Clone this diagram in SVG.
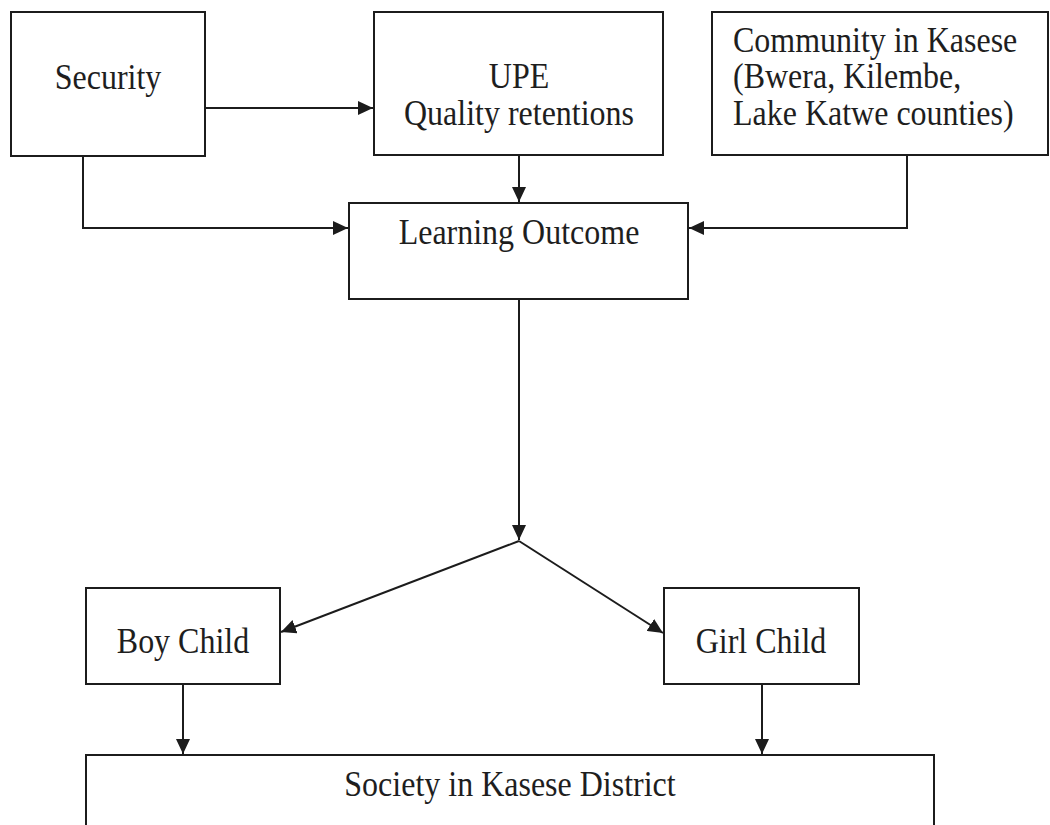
<svg xmlns="http://www.w3.org/2000/svg" width="1050" height="825" viewBox="0 0 1050 825">
<style>
  .box { fill: #ffffff; stroke: #1c1c1c; stroke-width: 2; }
  .conn { fill: none; stroke: #1c1c1c; stroke-width: 2; }
  .t { font-family: "Liberation Serif", "Times New Roman", serif; font-size: 32px; fill: #1e1e1e; }
  .c { text-anchor: middle; }
</style>
<defs>
  <marker id="arrow" markerUnits="userSpaceOnUse" markerWidth="16" markerHeight="14" refX="15" refY="7" orient="auto">
    <path d="M0,0 L15,7 L0,14 z" fill="#1c1c1c"/>
  </marker>
</defs>
<rect width="1050" height="825" fill="#ffffff"/>

<g id="connectors">
  <path class="conn" d="M205,108 H373" marker-end="url(#arrow)"/>
  <path class="conn" d="M83,156 V228 H348" marker-end="url(#arrow)"/>
  <path class="conn" d="M519,155 V202" marker-end="url(#arrow)"/>
  <path class="conn" d="M907,155 V228 H689" marker-end="url(#arrow)"/>
  <path class="conn" d="M519,299 V540" marker-end="url(#arrow)"/>
  <path class="conn" d="M519,541 L281,632" marker-end="url(#arrow)"/>
  <path class="conn" d="M519,541 L663,633" marker-end="url(#arrow)"/>
  <path class="conn" d="M183,684 V754" marker-end="url(#arrow)"/>
  <path class="conn" d="M762,684 V754" marker-end="url(#arrow)"/>
</g>

<g id="security">
  <rect class="box" x="11" y="12" width="194" height="144"/>
  <text class="t c" transform="translate(108,89) scale(1,1.1)">Security</text>
</g>

<g id="upe">
  <rect class="box" x="374" y="12" width="289" height="143"/>
  <text class="t c" transform="translate(519,88) scale(1,1.1)">UPE</text>
  <text class="t c" transform="translate(519,125) scale(1,1.1)">Quality retentions</text>
</g>

<g id="community">
  <rect class="box" x="712" y="12" width="336" height="143"/>
  <text class="t" transform="translate(733,52) scale(1,1.1)">Community in Kasese</text>
  <text class="t" transform="translate(733,88) scale(1,1.1)">(Bwera, Kilembe,</text>
  <text class="t" transform="translate(733,125) scale(1,1.1)">Lake Katwe counties)</text>
</g>

<g id="learning-outcome">
  <rect class="box" x="349" y="203" width="339" height="96"/>
  <text class="t c" transform="translate(519,244) scale(1,1.1)">Learning Outcome</text>
</g>

<g id="boy-child">
  <rect class="box" x="86" y="588" width="194" height="96"/>
  <text class="t c" transform="translate(183,653) scale(1,1.1)">Boy Child</text>
</g>

<g id="girl-child">
  <rect class="box" x="664" y="588" width="195" height="96"/>
  <text class="t c" transform="translate(761,653) scale(1,1.1)">Girl Child</text>
</g>

<g id="society">
  <path class="box" d="M86,840 V755 H934 V840"/>
  <text class="t c" transform="translate(510,796) scale(1,1.1)">Society in Kasese District</text>
</g>
</svg>
